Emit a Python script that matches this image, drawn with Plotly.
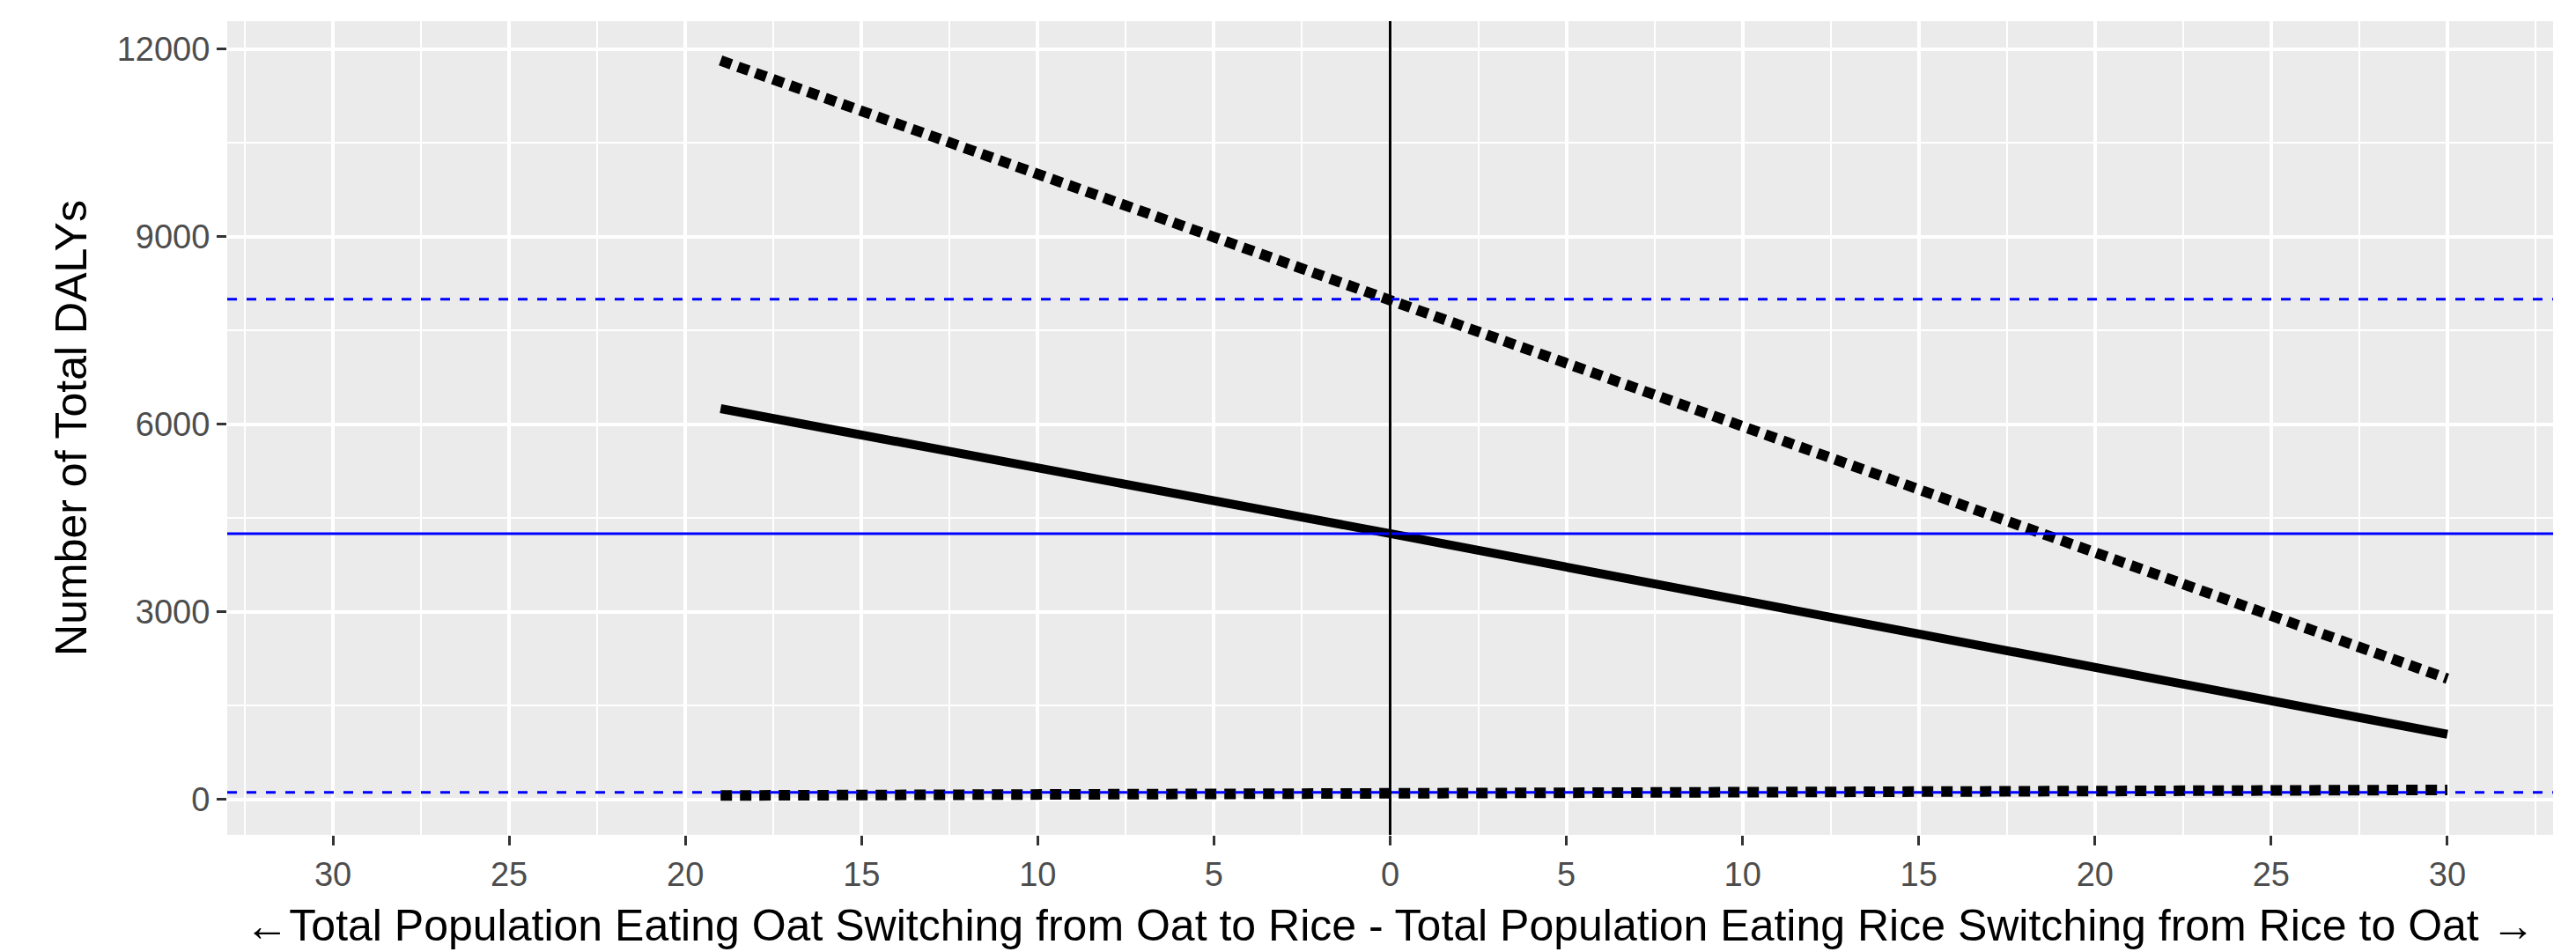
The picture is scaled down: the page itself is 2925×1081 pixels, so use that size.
import plotly.graph_objects as go

# ---- data ----
switch_x = [-19, 0, 30]
dalys_central = [6250, 4250, 1040]
dalys_upper = [11820, 8000, 1930]
dalys_lower = [60, 110, 150]

ref_dashed_y = [8000, 110]
ref_solid_y = [4250]
ref_vertical_x = [0]

xtick_vals = [-30, -25, -20, -15, -10, -5, 0, 5, 10, 15, 20, 25, 30]
xtick_text = ["30", "25", "20", "15", "10", "5", "0", "5", "10", "15", "20", "25", "30"]
ytick_vals = [0, 3000, 6000, 9000, 12000]
ytick_text = ["0", "3000", "6000", "9000", "12000"]
x_minor = [-32.5, -27.5, -22.5, -17.5, -12.5, -7.5, -2.5, 2.5, 7.5, 12.5, 17.5, 22.5, 27.5, 32.5]
y_minor = [1500, 4500, 7500, 10500]

x_title = ("\u2190Total Population Eating Oat Switching from Oat to Rice - "
           "Total Population Eating Rice Switching from Rice to Oat \u2192")
y_title = "Number of Total DALYs"

FONT = "Liberation Sans, Arial, sans-serif"

fig = go.Figure()

fig.add_trace(go.Scatter(x=switch_x, y=dalys_upper, mode="lines",
                         line=dict(color="black", width=12, dash="13px,8px"),
                         showlegend=False))
fig.add_trace(go.Scatter(x=switch_x, y=dalys_lower, mode="lines",
                         line=dict(color="black", width=12, dash="13px,9px"),
                         showlegend=False))
fig.add_trace(go.Scatter(x=switch_x, y=dalys_central, mode="lines",
                         line=dict(color="black", width=10),
                         showlegend=False))

for yv in ref_dashed_y:
    fig.add_hline(y=yv, line=dict(color="#0000FF", width=3, dash="11px,11px"))
for yv in ref_solid_y:
    fig.add_hline(y=yv, line=dict(color="#0000FF", width=3))
for xv in ref_vertical_x:
    fig.add_vline(x=xv, line=dict(color="black", width=3))

fig.update_layout(
    width=2925, height=1081,
    margin=dict(l=258, r=26, t=24, b=130),
    paper_bgcolor="white",
    plot_bgcolor="#EBEBEB",
    font=dict(family=FONT, color="black"),
    showlegend=False,
)

fig.update_xaxes(
    range=[-33, 33],
    tickmode="array", tickvals=xtick_vals, ticktext=xtick_text,
    tickfont=dict(size=38, color="#4D4D4D", family=FONT),
    ticks="outside", ticklen=11, tickwidth=3, tickcolor="#333333",
    showgrid=True, gridcolor="white", gridwidth=4,
    minor=dict(tickmode="array", tickvals=x_minor,
               showgrid=True, gridcolor="white", gridwidth=2, ticks=""),
    zeroline=False, showline=False,
    title=dict(text=x_title, font=dict(size=50, color="black", family=FONT), standoff=20),
)
fig.update_yaxes(
    range=[-570, 12450],
    tickmode="array", tickvals=ytick_vals, ticktext=ytick_text,
    tickfont=dict(size=38, color="#4D4D4D", family=FONT),
    ticks="outside", ticklen=11, tickwidth=3, tickcolor="#333333",
    showgrid=True, gridcolor="white", gridwidth=4,
    minor=dict(tickmode="array", tickvals=y_minor,
               showgrid=True, gridcolor="white", gridwidth=2, ticks=""),
    zeroline=False, showline=False,
    title=dict(text=y_title, font=dict(size=50, color="black", family=FONT), standoff=18),
)

fig.write_html("out.html", config={"displayModeBar": False},
               post_script="document.body.style.margin='0';")
